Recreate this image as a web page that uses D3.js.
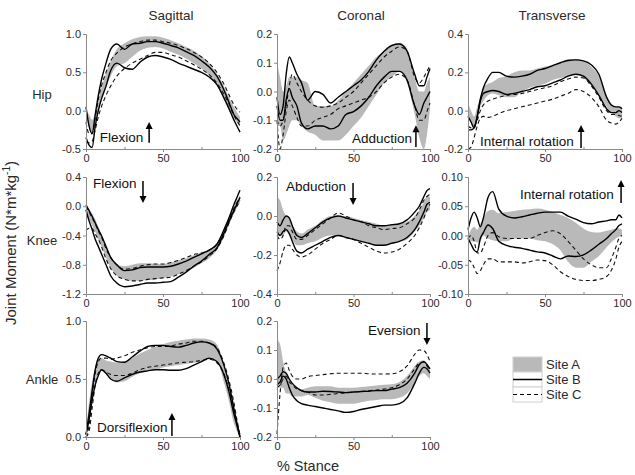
<!DOCTYPE html>
<html><head><meta charset="utf-8">
<script src="https://cdn.jsdelivr.net/npm/d3@7"></script>
<style>
body{margin:0;background:#fff}
svg{display:block}
text{font-family:"Liberation Sans",Arial,Helvetica,sans-serif}
</style>
</head><body>
<svg id="chart" width="635" height="475"></svg>
<script>
// ---------------- DATA ----------------
const pct = [0,2,4,6,8,10,13,16,20,25,30,35,40,45,50,55,60,65,70,75,80,85,90,93,96,98,100];

const rowNames = ["Hip","Knee","Ankle"];
const colNames = ["Sagittal","Coronal","Transverse"];
const legendLabels = ["Site A","Site B","Site C"];

// Hip sagittal
const hipSagAHi = [0.0,-0.05,-0.12,-0.02,0.15,0.3,0.48,0.64,0.8,0.88,0.93,0.96,0.97,0.97,0.95,0.92,0.88,0.83,0.78,0.71,0.62,0.48,0.3,0.17,0.05,-0.02,-0.08];
const hipSagALo = [-0.1,-0.2,-0.28,-0.15,0.0,0.15,0.3,0.45,0.58,0.62,0.7,0.78,0.82,0.83,0.81,0.77,0.73,0.68,0.62,0.55,0.46,0.33,0.12,0.0,-0.1,-0.15,-0.2];
const hipSagBHi = [0.05,-0.2,-0.3,-0.05,0.2,0.4,0.62,0.8,0.87,0.8,0.87,0.88,0.9,0.9,0.88,0.85,0.82,0.77,0.72,0.65,0.57,0.45,0.25,0.1,-0.05,-0.1,-0.15];
const hipSagBLo = [-0.35,-0.45,-0.48,-0.2,0.0,0.15,0.32,0.52,0.62,0.56,0.54,0.63,0.7,0.72,0.7,0.67,0.62,0.58,0.54,0.5,0.44,0.34,0.15,0.02,-0.12,-0.2,-0.28];
const hipSagCHi = [-0.15,-0.3,-0.3,-0.1,0.15,0.32,0.5,0.65,0.75,0.83,0.87,0.9,0.92,0.92,0.9,0.88,0.85,0.81,0.76,0.7,0.62,0.5,0.33,0.2,0.08,0.02,-0.02];
const hipSagCLo = [-0.4,-0.42,-0.4,-0.25,-0.08,0.05,0.2,0.32,0.45,0.55,0.62,0.67,0.72,0.76,0.76,0.73,0.7,0.65,0.6,0.54,0.47,0.36,0.2,0.08,-0.06,-0.13,-0.2];

// Hip coronal
const hipCorAHi = [0.1,0.05,0.0,0.02,0.05,0.05,0.05,0.04,0.03,-0.05,-0.05,-0.05,-0.03,0.0,0.03,0.06,0.09,0.12,0.14,0.16,0.17,0.15,0.05,0.0,0.0,0.03,0.05];
const hipCorALo = [-0.12,-0.12,-0.17,-0.15,-0.12,-0.1,-0.1,-0.12,-0.14,-0.15,-0.17,-0.17,-0.17,-0.15,-0.12,-0.09,-0.05,-0.01,0.03,0.05,0.07,0.03,-0.08,-0.16,-0.2,-0.15,-0.06];
const hipCorBHi = [-0.02,-0.08,-0.05,0.06,0.12,0.1,0.06,0.03,-0.03,0.0,-0.01,-0.04,-0.02,0.0,0.02,0.04,0.07,0.11,0.14,0.16,0.165,0.14,0.06,0.02,0.02,0.05,0.08];
const hipCorBLo = [-0.05,-0.1,-0.1,-0.03,0.01,-0.02,-0.05,-0.11,-0.13,-0.12,-0.12,-0.13,-0.12,-0.08,-0.07,-0.05,-0.02,0.02,0.05,0.07,0.07,0.04,-0.05,-0.08,-0.04,-0.02,0.0];
const hipCorCHi = [-0.1,-0.12,-0.1,-0.05,0.02,0.06,0.03,0.0,-0.03,-0.05,-0.055,-0.05,-0.04,-0.02,0.0,0.03,0.06,0.09,0.12,0.14,0.155,0.14,0.05,0.03,0.05,0.07,0.09];
const hipCorCLo = [-0.1,-0.2,-0.15,-0.07,-0.03,-0.05,-0.09,-0.12,-0.12,-0.1,-0.09,-0.08,-0.06,-0.05,-0.04,-0.03,-0.02,0.0,0.03,0.05,0.06,0.04,-0.05,-0.1,-0.1,-0.07,-0.04];

// Hip transverse
const hipTraAHi = [0.04,0.0,-0.03,0.02,0.07,0.12,0.14,0.15,0.17,0.18,0.2,0.21,0.21,0.22,0.23,0.24,0.25,0.27,0.27,0.26,0.23,0.18,0.08,0.04,0.02,0.02,0.02];
const hipTraALo = [-0.02,-0.06,-0.08,-0.04,0.02,0.05,0.08,0.09,0.08,0.07,0.07,0.1,0.12,0.13,0.14,0.16,0.17,0.18,0.19,0.17,0.13,0.08,0.02,-0.01,-0.03,-0.04,-0.04];
const hipTraBHi = [-0.1,-0.1,-0.09,-0.03,0.06,0.12,0.17,0.2,0.2,0.18,0.175,0.18,0.19,0.21,0.22,0.235,0.25,0.262,0.265,0.26,0.24,0.19,0.07,0.03,0.02,0.02,0.01];
const hipTraBLo = [-0.03,-0.06,-0.09,-0.03,0.05,0.09,0.1,0.105,0.1,0.085,0.09,0.1,0.11,0.125,0.13,0.145,0.16,0.18,0.19,0.18,0.14,0.08,0.01,-0.01,-0.01,0.0,-0.01];
const hipTraCHi = [-0.08,-0.09,-0.08,-0.05,0.0,0.03,0.05,0.06,0.07,0.08,0.085,0.09,0.1,0.11,0.12,0.13,0.15,0.165,0.175,0.17,0.13,0.07,0.0,-0.02,-0.02,-0.025,-0.03];
const hipTraCLo = [-0.2,-0.19,-0.14,-0.08,-0.04,-0.03,-0.035,-0.03,-0.015,0.0,0.01,0.02,0.03,0.04,0.05,0.06,0.075,0.09,0.11,0.1,0.07,0.02,-0.05,-0.065,-0.07,-0.06,-0.04];

// Knee sagittal
const kneeSagAHi = [0.0,-0.04,-0.1,-0.18,-0.28,-0.38,-0.55,-0.68,-0.79,-0.82,-0.8,-0.78,-0.78,-0.79,-0.79,-0.77,-0.74,-0.71,-0.67,-0.63,-0.59,-0.5,-0.3,-0.16,0.0,0.08,0.15];
const kneeSagALo = [-0.1,-0.18,-0.26,-0.35,-0.45,-0.55,-0.7,-0.84,-0.95,-1.0,-1.02,-1.02,-1.01,-1.0,-0.98,-0.96,-0.93,-0.89,-0.84,-0.78,-0.71,-0.6,-0.4,-0.25,-0.1,-0.02,0.05];
const kneeSagBHi = [0.02,-0.06,-0.14,-0.23,-0.32,-0.4,-0.55,-0.7,-0.8,-0.88,-0.87,-0.84,-0.83,-0.83,-0.83,-0.82,-0.79,-0.75,-0.7,-0.65,-0.6,-0.52,-0.3,-0.15,0.02,0.12,0.22];
const kneeSagBLo = [-0.05,-0.2,-0.32,-0.45,-0.55,-0.65,-0.8,-0.95,-1.05,-1.1,-1.09,-1.07,-1.05,-1.05,-1.04,-1.03,-0.97,-0.9,-0.82,-0.75,-0.66,-0.57,-0.35,-0.2,-0.06,0.03,0.12];
const kneeSagCHi = [0.0,-0.08,-0.16,-0.24,-0.34,-0.42,-0.58,-0.7,-0.8,-0.86,-0.85,-0.82,-0.8,-0.79,-0.79,-0.77,-0.74,-0.7,-0.66,-0.64,-0.6,-0.52,-0.33,-0.18,-0.03,0.05,0.12];
const kneeSagCLo = [-0.33,-0.3,-0.3,-0.38,-0.45,-0.55,-0.72,-0.85,-0.95,-1.0,-1.02,-1.02,-1.0,-0.99,-0.98,-0.97,-0.93,-0.88,-0.82,-0.76,-0.68,-0.58,-0.38,-0.22,-0.08,0.0,0.08];

// Knee coronal
const kneeCorAHi = [0.1,0.08,0.03,0.0,-0.02,-0.05,-0.08,-0.09,-0.07,-0.05,-0.02,0.0,0.0,0.0,-0.01,-0.02,-0.03,-0.04,-0.05,-0.05,-0.04,-0.03,0.0,0.03,0.07,0.1,0.1];
const kneeCorALo = [-0.1,-0.1,-0.1,-0.08,-0.1,-0.12,-0.15,-0.15,-0.14,-0.13,-0.11,-0.1,-0.1,-0.11,-0.12,-0.13,-0.14,-0.15,-0.15,-0.14,-0.13,-0.12,-0.08,-0.05,-0.01,0.02,0.03];
const kneeCorBHi = [-0.03,-0.05,-0.02,0.0,-0.01,-0.05,-0.1,-0.11,-0.09,-0.06,-0.03,-0.01,0.0,-0.01,-0.02,-0.03,-0.04,-0.05,-0.05,-0.045,-0.04,-0.02,0.02,0.05,0.1,0.13,0.14];
const kneeCorBLo = [-0.08,-0.1,-0.08,-0.07,-0.09,-0.13,-0.18,-0.19,-0.17,-0.15,-0.13,-0.11,-0.1,-0.11,-0.12,-0.13,-0.14,-0.15,-0.15,-0.14,-0.13,-0.11,-0.07,-0.03,0.02,0.06,0.07];
const kneeCorCHi = [-0.1,-0.12,-0.1,-0.05,-0.05,-0.08,-0.12,-0.12,-0.1,-0.07,-0.04,-0.01,0.015,0.0,-0.02,-0.03,-0.05,-0.06,-0.07,-0.065,-0.06,-0.04,-0.01,0.03,0.08,0.1,0.11];
const kneeCorCLo = [-0.28,-0.24,-0.18,-0.15,-0.15,-0.17,-0.2,-0.21,-0.2,-0.17,-0.14,-0.12,-0.1,-0.11,-0.12,-0.14,-0.16,-0.18,-0.19,-0.185,-0.17,-0.14,-0.1,-0.06,-0.01,0.03,0.06];

// Knee transverse
const kneeTraAHi = [0.0,0.01,0.015,0.01,0.02,0.03,0.042,0.044,0.038,0.04,0.042,0.044,0.045,0.046,0.044,0.04,0.035,0.03,0.022,0.012,0.006,0.005,0.008,0.01,0.012,0.012,0.01];
const kneeTraALo = [-0.01,-0.01,-0.01,-0.012,-0.01,0.0,-0.005,-0.008,-0.01,-0.01,-0.005,-0.005,-0.005,-0.008,-0.01,-0.015,-0.025,-0.045,-0.055,-0.055,-0.045,-0.035,-0.02,-0.012,-0.005,-0.002,0.0];
const kneeTraBHi = [0.01,0.03,0.04,0.03,0.015,0.03,0.065,0.075,0.045,0.033,0.03,0.032,0.035,0.038,0.04,0.04,0.04,0.033,0.028,0.022,0.02,0.023,0.025,0.027,0.027,0.035,0.03];
const kneeTraBLo = [-0.005,-0.015,-0.025,-0.028,-0.005,0.005,0.018,0.012,-0.01,-0.017,-0.02,-0.022,-0.025,-0.028,-0.03,-0.035,-0.04,-0.035,-0.036,-0.033,-0.025,-0.015,-0.005,0.003,0.01,0.017,0.02];
const kneeTraCHi = [-0.005,0.0,-0.01,-0.03,-0.03,-0.02,0.0,0.005,-0.002,-0.005,-0.005,-0.005,-0.005,0.0,0.005,0.008,0.003,-0.01,-0.025,-0.04,-0.05,-0.055,-0.055,-0.04,-0.02,-0.005,0.0];
const kneeTraCLo = [-0.042,-0.045,-0.055,-0.065,-0.06,-0.05,-0.04,-0.04,-0.045,-0.045,-0.045,-0.047,-0.045,-0.042,-0.043,-0.05,-0.062,-0.07,-0.075,-0.077,-0.077,-0.075,-0.07,-0.06,-0.04,-0.02,-0.01];

// Ankle sagittal
const ankSagAHi = [0.05,0.3,0.48,0.6,0.67,0.68,0.66,0.65,0.64,0.65,0.68,0.72,0.75,0.78,0.8,0.82,0.83,0.84,0.85,0.85,0.84,0.8,0.6,0.45,0.25,0.12,0.02];
const ankSagALo = [0.0,0.15,0.33,0.47,0.55,0.57,0.54,0.5,0.47,0.48,0.52,0.55,0.57,0.58,0.6,0.61,0.62,0.63,0.64,0.65,0.67,0.65,0.45,0.3,0.12,0.05,0.0];
const ankSagBHi = [0.02,0.2,0.4,0.58,0.68,0.71,0.7,0.68,0.65,0.645,0.69,0.74,0.78,0.79,0.79,0.78,0.775,0.79,0.81,0.82,0.81,0.76,0.6,0.45,0.25,0.12,0.0];
const ankSagBLo = [0.02,0.15,0.32,0.45,0.53,0.58,0.55,0.5,0.48,0.51,0.54,0.56,0.57,0.58,0.58,0.575,0.575,0.59,0.62,0.65,0.68,0.65,0.52,0.38,0.2,0.1,0.0];
const ankSagCHi = [0.0,0.1,0.35,0.55,0.65,0.68,0.68,0.67,0.68,0.7,0.73,0.75,0.77,0.78,0.78,0.785,0.8,0.81,0.825,0.825,0.81,0.77,0.62,0.48,0.3,0.15,0.02];
const ankSagCLo = [0.0,0.05,0.25,0.45,0.55,0.58,0.56,0.54,0.53,0.53,0.55,0.58,0.6,0.61,0.62,0.63,0.64,0.645,0.65,0.66,0.67,0.64,0.53,0.4,0.22,0.12,0.02];

// Ankle coronal
const ankCorAHi = [0.135,0.12,0.06,0.02,0.0,-0.02,-0.03,-0.035,-0.03,-0.025,-0.025,-0.025,-0.03,-0.03,-0.03,-0.028,-0.025,-0.022,-0.02,-0.018,-0.01,0.01,0.045,0.06,0.065,0.05,0.03];
const ankCorALo = [-0.025,-0.03,-0.03,-0.05,-0.05,-0.06,-0.06,-0.06,-0.055,-0.065,-0.075,-0.08,-0.085,-0.085,-0.085,-0.08,-0.075,-0.072,-0.07,-0.07,-0.065,-0.05,-0.015,0.01,0.02,0.01,0.0];
const ankCorBHi = [0.0,0.01,0.025,0.02,0.0,-0.015,-0.03,-0.04,-0.045,-0.045,-0.042,-0.043,-0.045,-0.047,-0.045,-0.043,-0.042,-0.04,-0.04,-0.035,-0.03,-0.015,0.02,0.05,0.06,0.05,0.035];
const ankCorBLo = [-0.02,-0.01,0.01,0.0,-0.03,-0.055,-0.075,-0.085,-0.09,-0.095,-0.1,-0.105,-0.11,-0.115,-0.112,-0.105,-0.1,-0.095,-0.09,-0.09,-0.085,-0.065,-0.015,0.02,0.04,0.035,0.02];
const ankCorCHi = [-0.19,-0.05,0.04,0.055,0.03,0.01,0.0,0.0,0.008,0.012,0.015,0.018,0.02,0.02,0.02,0.02,0.018,0.017,0.017,0.018,0.025,0.045,0.085,0.1,0.098,0.085,0.06];
const ankCorCLo = [-0.03,-0.02,0.0,0.01,-0.01,-0.02,-0.035,-0.04,-0.045,-0.055,-0.055,-0.053,-0.05,-0.048,-0.045,-0.043,-0.04,-0.038,-0.035,-0.03,-0.02,0.0,0.035,0.055,0.058,0.045,0.03];

// tick values
const xTicks = [0,50,100];
const xMinor = [25,75];
const hipSagTicks = [-0.5,0.0,0.5,1.0];
const hipCorTicks = [-0.2,-0.1,0.0,0.1,0.2];
const hipTraTicks = [-0.2,0.0,0.2,0.4];
const kneeSagTicks = [-1.2,-0.8,-0.4,0.0,0.4];
const kneeCorTicks = [-0.4,-0.2,0.0,0.2];
const kneeTraTicks = [-0.10,-0.05,0.00,0.05,0.10];
const ankSagTicks = [0.0,0.5,1.0];
const ankCorTicks = [-0.2,-0.1,0.0,0.1,0.2];

// ---------------- LAYOUT ----------------
const colX = [[86,240],[277,430],[468,622]];
const rowY = [[34,149],[177,294],[321,437]];

const panels = [
  {r:0,c:0,ticks:hipSagTicks,dec:1,s:[hipSagAHi,hipSagALo,hipSagBHi,hipSagBLo,hipSagCHi,hipSagCLo],
   ann:{t:"Flexion",tx:9,ty:-0.41,ax:41,a0:-0.42,a1:-0.148}},
  {r:0,c:1,ticks:hipCorTicks,dec:1,s:[hipCorAHi,hipCorALo,hipCorBHi,hipCorBLo,hipCorCHi,hipCorCLo],
   ann:{t:"Adduction",tx:49,ty:-0.179,ax:90.8,a0:-0.193,a1:-0.117}},
  {r:0,c:2,ticks:hipTraTicks,dec:1,s:[hipTraAHi,hipTraALo,hipTraBHi,hipTraBLo,hipTraCHi,hipTraCLo],
   ann:{t:"Internal rotation",tx:7.8,ty:-0.184,ax:73.4,a0:-0.195,a1:-0.075}},
  {r:1,c:0,ticks:kneeSagTicks,dec:1,s:[kneeSagAHi,kneeSagALo,kneeSagBHi,kneeSagBLo,kneeSagCHi,kneeSagCLo],
   ann:{t:"Flexion",tx:4.5,ty:0.25,ax:37,a0:0.345,a1:0.044}},
  {r:1,c:1,ticks:kneeCorTicks,dec:1,s:[kneeCorAHi,kneeCorALo,kneeCorBHi,kneeCorBLo,kneeCorCHi,kneeCorCLo],
   ann:{t:"Abduction",tx:5.9,ty:0.128,ax:49.7,a0:0.169,a1:0.056}},
  {r:1,c:2,ticks:kneeTraTicks,dec:2,s:[kneeTraAHi,kneeTraALo,kneeTraBHi,kneeTraBLo,kneeTraCHi,kneeTraCLo],
   ann:{t:"Internal rotation",tx:33.8,ty:0.0624,ax:99.4,a0:0.0556,a1:0.0949}},
  {r:2,c:0,ticks:ankSagTicks,dec:1,s:[ankSagAHi,ankSagALo,ankSagBHi,ankSagBLo,ankSagCHi,ankSagCLo],
   ann:{t:"Dorsiflexion",tx:7.1,ty:0.043,ax:55.8,a0:0.009,a1:0.207}},
  {r:2,c:1,ticks:ankCorTicks,dec:1,s:[ankCorAHi,ankCorALo,ankCorBHi,ankCorBLo,ankCorCHi,ankCorCLo],
   ann:{t:"Eversion",tx:59.5,ty:0.152,ax:98,a0:0.193,a1:0.117}}
];

const svg = d3.select("#chart");
const BAND = "#b9b9b9", AXIS = "#8a8a8a", TXT = "#2a2a2a";
const fmt = dec => d => d3.format("." + dec + "f")(d).replace("\u2212","-");

panels.forEach(p => {
  const x = d3.scaleLinear().domain([0,100]).range(colX[p.c]);
  const t = p.ticks;
  const y = d3.scaleLinear().domain([t[0], t[t.length-1]]).range([rowY[p.r][1], rowY[p.r][0]]);
  const g = svg.append("g");
  const [aHi,aLo,bHi,bLo,cHi,cLo] = p.s;

  const area = d3.area().x((d,i)=>x(pct[i])).y0((d,i)=>y(aLo[i])).y1(d=>y(d)).curve(d3.curveMonotoneX);
  g.append("path").attr("d", area(aHi)).attr("fill", BAND).attr("stroke","none");

  const line = d3.line().x((d,i)=>x(pct[i])).y(d=>y(d)).curve(d3.curveMonotoneX);
  [cHi,cLo].forEach(s => g.append("path").attr("d", line(s)).attr("fill","none")
     .attr("stroke","#111").attr("stroke-width",1.1).attr("stroke-dasharray","4,3"));
  [bHi,bLo].forEach(s => g.append("path").attr("d", line(s)).attr("fill","none")
     .attr("stroke","#000").attr("stroke-width",1.4));

  // axes
  const ya = g.append("g").attr("transform",`translate(${colX[p.c][0]},0)`)
    .call(d3.axisLeft(y).tickValues(t).tickSize(3).tickPadding(2).tickFormat(fmt(p.dec)));
  const xa = g.append("g").attr("transform",`translate(0,${rowY[p.r][1]})`)
    .call(d3.axisBottom(x).tickValues(xTicks).tickSize(3).tickPadding(2).tickFormat(d3.format("d")));
  const xm = g.append("g").attr("transform",`translate(0,${rowY[p.r][1]})`)
    .call(d3.axisTop(x).tickValues(xMinor).tickSize(2).tickFormat(""));
  xm.select(".domain").remove();
  [ya,xa,xm].forEach(a => {
    a.select(".domain").attr("stroke",AXIS).attr("stroke-width",1);
    a.selectAll(".tick line").attr("stroke",AXIS);
    a.selectAll("text").attr("fill",TXT).attr("font-size",11)
      .attr("font-family",'"Liberation Sans",Arial,sans-serif');
  });

  // annotation
  const a = p.ann;
  g.append("text").attr("x", x(a.tx)).attr("y", y(a.ty)).text(a.t)
    .attr("font-size",13.5).attr("fill","#111");
  const ax = x(a.ax), y0 = y(a.a0), y1 = y(a.a1);
  const dir = y1 < y0 ? 1 : -1; // 1 => arrow up
  g.append("line").attr("x1",ax).attr("x2",ax).attr("y1",y0).attr("y2",y1 + dir*6)
    .attr("stroke","#000").attr("stroke-width",1.5);
  g.append("path").attr("d",`M${ax},${y1} L${ax-3.5},${y1+dir*7} L${ax+3.5},${y1+dir*7} Z`).attr("fill","#000");
});

// column titles
const titleX = [171, 361, 552];
colNames.forEach((n,i) => svg.append("text").attr("x",titleX[i]).attr("y",20)
  .attr("text-anchor","middle").attr("font-size",13.5).attr("fill",TXT).text(n));

// row labels
const rowLabelY = [99, 245, 384];
rowNames.forEach((n,i) => svg.append("text").attr("x",42).attr("y",rowLabelY[i])
  .attr("text-anchor","middle").attr("font-size",13).attr("fill",TXT).text(n));

// y axis title
const yt = svg.append("text").attr("transform","translate(16,243) rotate(-90)")
  .attr("text-anchor","middle").attr("font-size",15).attr("fill",TXT);
yt.append("tspan").text("Joint Moment (N*m*kg");
yt.append("tspan").attr("font-size",10).attr("dy",-6).text("-1");
yt.append("tspan").attr("dy",6).text(")");

// x axis title
svg.append("text").attr("x",308).attr("y",471).attr("text-anchor","middle")
  .attr("font-size",14.5).attr("fill",TXT).text("% Stance");

// legend
const lg = svg.append("g");
const lx = 513, lw = 29, ly = [357,372,387], lh = 15;
legendLabels.forEach((lab,i) => {
  lg.append("rect").attr("x",lx).attr("y",ly[i]).attr("width",lw).attr("height",lh)
    .attr("fill", i===0 ? BAND : "#fff").attr("stroke","#d0d0d0").attr("stroke-width",1);
  if (i>0) lg.append("line").attr("x1",lx).attr("x2",lx+lw).attr("y1",ly[i]+lh/2).attr("y2",ly[i]+lh/2)
    .attr("stroke","#000").attr("stroke-width", i===1?1.5:1).attr("stroke-dasharray", i===2?"4,3":null);
  lg.append("text").attr("x",lx+lw+4).attr("y",ly[i]+11.5).attr("font-size",13).attr("fill",TXT).text(lab);
});
</script>
</body></html>
